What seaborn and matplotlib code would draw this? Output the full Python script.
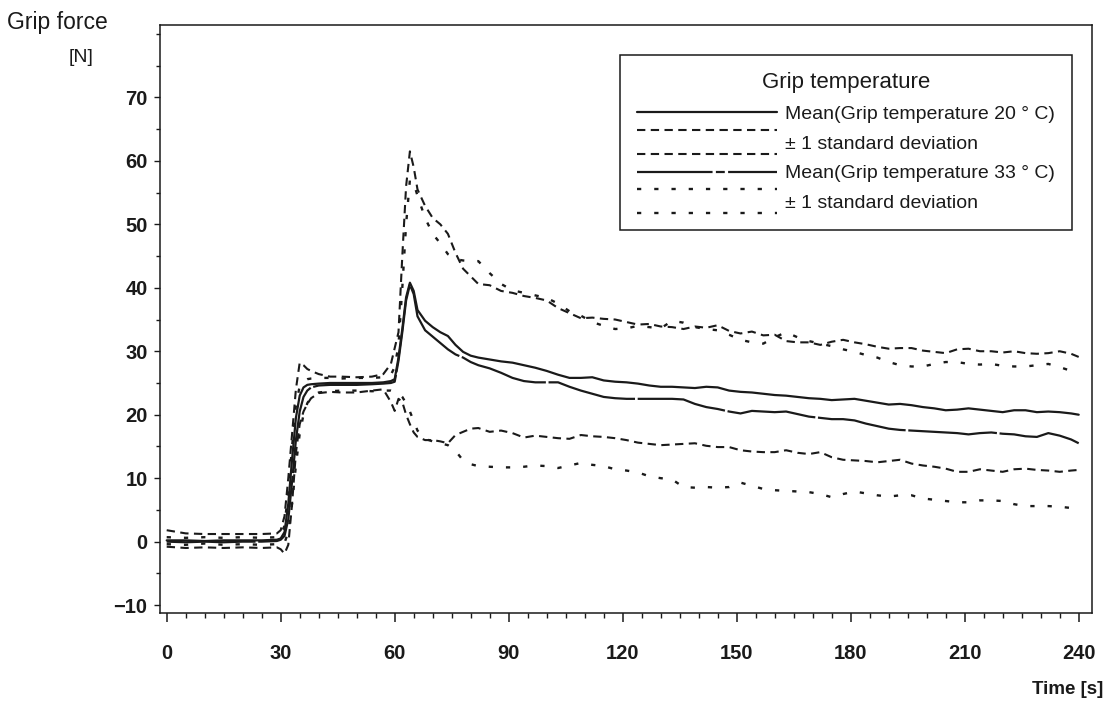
import numpy as np
import pandas as pd
import matplotlib
matplotlib.use("Agg")
import matplotlib.pyplot as plt
import seaborn as sns
from matplotlib.lines import Line2D
from matplotlib.legend_handler import HandlerBase
from matplotlib.ticker import MultipleLocator, FixedLocator

# time axis [s] (denser around the two force steps)
t = [0, 5, 10, 15, 20, 25, 29, 30, 31, 32, 33, 34, 35, 36, 37, 38,
     40, 43, 46, 50, 54, 57, 59,
     60, 61, 62, 63, 64, 65, 66,
     68, 70, 72, 74, 76, 78, 80, 82,
     85, 88, 91, 94, 97, 100, 103, 106, 109, 112,
     115, 118, 121, 124, 127, 130, 133, 136, 139, 142,
     145, 148, 151, 154, 157, 160, 163, 166, 169, 172,
     175, 178, 181, 184, 187, 190, 193, 196, 199, 202,
     205, 208, 211, 214, 217, 220, 223, 226, 229, 232,
     235, 238, 240]

# grip temperature 20 C
mean20 = [0.2, 0.2, 0.1, 0.2, 0.2, 0.2, 0.3, 0.5, 1.5, 6, 13, 19.5, 23, 24.3, 24.7, 24.8,
          24.9, 25.0, 25.0, 25.0, 25.0, 25.1, 25.3,
          25.6, 29, 33.5, 38.5, 40.8, 39.5, 36.5,
          34.8, 33.8, 33.0, 32.4, 31.0, 29.9, 29.3, 29.0,
          28.7, 28.4, 28.2, 27.8, 27.4, 26.9, 26.3, 25.8, 25.8, 25.9,
          25.4, 25.2, 25.1, 24.9, 24.6, 24.4, 24.4, 24.3, 24.2, 24.4,
          24.3, 23.8, 23.6, 23.5, 23.3, 23.1, 23.0, 22.8, 22.6, 22.5,
          22.3, 22.4, 22.5, 22.2, 21.9, 21.6, 21.7, 21.5, 21.2, 21.0,
          20.7, 20.8, 21.0, 20.8, 20.6, 20.4, 20.7, 20.7, 20.4, 20.5,
          20.4, 20.2, 20.0]
sd20_hi = [1.8, 1.3, 1.2, 1.2, 1.2, 1.2, 1.3, 1.8, 4, 10, 17, 24, 28.2, 27.8, 27.2, 26.9,
           26.4, 26.0, 26.0, 25.9, 26.0, 26.4, 28.0,
           30.5, 33, 45, 56, 61.5, 59, 55.5,
           52.9, 51.0, 50.0, 48.5, 45.5, 43.0, 41.8, 40.6,
           40.4, 39.5, 39.2, 38.7, 38.4, 38.0, 36.8, 36.0, 35.2, 35.3,
           35.1, 35.0, 34.6, 34.2, 34.3, 33.9, 33.8, 33.5, 33.9, 33.7,
           34.1, 33.2, 32.8, 33.1, 32.5, 32.6, 31.6, 31.4, 31.4, 31.0,
           31.5, 31.8, 31.4, 31.1, 30.7, 30.4, 30.5, 30.5, 30.1, 29.9,
           29.7, 30.3, 30.4, 30.0, 30.0, 29.8, 30.0, 29.7, 29.6, 29.7,
           30.0, 29.6, 29.1]
sd20_lo = [-0.8, -1.0, -0.9, -1.0, -0.9, -1.0, -0.9, -1.2, -1.9, -0.5, 6, 14, 18.5, 20.5, 21.7, 22.6,
           23.4, 23.6, 23.5, 23.5, 23.8, 24.0, 22.0,
           20.6, 22.5, 22.0, 20.0, 18.5, 17.2, 16.5,
           16.0, 16.0, 15.8, 15.5, 16.8, 17.3, 17.8, 17.9,
           17.3, 17.5, 17.1, 16.4, 16.7, 16.5, 16.3, 16.2, 16.8, 16.6,
           16.5, 16.3, 16.0, 15.6, 15.4, 15.2, 15.3, 15.4, 15.5, 15.1,
           14.9, 14.9, 14.4, 14.2, 14.1, 14.1, 14.4, 14.0, 13.8, 14.1,
           13.3, 12.9, 12.8, 12.7, 12.5, 12.7, 12.9, 12.3, 12.0, 11.8,
           11.5, 11.0, 11.0, 11.4, 11.2, 11.0, 11.4, 11.5, 11.3, 11.2,
           11.0, 11.2, 11.3]

# grip temperature 33 C
mean33 = [0.0, -0.1, 0.0, -0.1, 0.0, 0.0, 0.1, 0.3, 0.9, 3.5, 9.5, 16, 20.5, 22.8, 23.8, 24.3,
          24.6, 24.7, 24.7, 24.7, 24.8, 24.9, 25.0,
          25.2, 28.5, 33, 38, 40.5, 39, 35.5,
          33.3, 32.3, 31.3, 30.3, 29.5, 29.0, 28.3, 27.8,
          27.3, 26.6, 25.8, 25.3, 25.1, 25.1, 25.1, 24.4, 23.8, 23.3,
          22.8, 22.6, 22.5, 22.5, 22.5, 22.5, 22.5, 22.4, 21.7, 21.2,
          20.9, 20.5, 20.2, 20.6, 20.5, 20.4, 20.5, 20.1, 19.7, 19.5,
          19.3, 19.3, 19.1, 18.6, 18.2, 17.8, 17.6, 17.5, 17.4, 17.3,
          17.2, 17.1, 16.9, 17.1, 17.2, 17.0, 16.9, 16.6, 16.5, 17.1,
          16.7, 16.1, 15.5]
sd33_hi = [0.7, 0.6, 0.7, 0.6, 0.7, 0.6, 0.7, 1.0, 2.5, 8, 15, 21.5, 24.5, 25.3, 25.6, 25.7,
           25.8, 25.8, 25.7, 25.8, 25.8, 25.9, 26.3,
           27.5, 31, 40, 50, 57, 56.5, 54.5,
           51.0, 48.5, 47.0, 45.3, 44.5, 44.3, 44.2, 44.2,
           42.3, 40.6, 39.6, 39.2, 38.8, 38.4, 37.5, 36.3, 35.6, 34.6,
           34.0, 33.5, 33.6, 34.0, 33.8, 33.6, 34.8, 34.5, 33.8, 33.5,
           33.3, 32.6, 31.8, 31.4, 31.2, 32.2, 33.0, 32.2, 31.6, 31.2,
           30.8, 30.3, 29.9, 29.4, 29.0, 28.3, 27.8, 27.6, 27.6, 28.0,
           28.3, 28.3, 28.0, 27.9, 28.0, 27.7, 27.6, 27.6, 27.8, 28.0,
           27.5, 26.9, 26.8]
sd33_lo = [-0.4, -0.5, -0.3, -0.5, -0.4, -0.5, -0.4, -0.5, -0.2, 1.5, 6, 12, 17, 20, 21.8, 22.8,
           23.5, 23.7, 23.8, 23.8, 23.7, 23.8, 23.8,
           23.6, 23.4, 22.8, 21.8, 20.5, 19.0, 17.5,
           16.2, 15.8, 15.5, 15.2, 14.3, 12.8, 12.2, 11.9,
           11.8, 11.7, 11.7, 11.8, 12.0, 11.9, 11.6, 12.0, 12.4, 12.1,
           11.9, 11.4, 11.2, 10.9, 10.3, 10.0, 9.8, 8.6, 8.5, 8.6,
           8.5, 8.6, 9.3, 8.8, 8.3, 8.1, 8.0, 7.9, 7.8, 7.5,
           7.0, 7.5, 7.9, 7.6, 7.3, 7.1, 7.3, 7.3, 6.8, 6.6,
           6.4, 6.2, 6.2, 6.5, 6.5, 6.4, 5.9, 5.6, 5.6, 5.6,
           5.5, 5.3, 5.2]

labels = ["Mean(Grip temperature 20 ° C)", "± 1 standard deviation",
          "Mean(Grip temperature 33 ° C)", "± 1 standard deviation"]
yticks = list(range(-10, 71, 10))
xticks = list(range(0, 241, 30))

sns.set_theme(style="ticks")
plt.rcParams["font.family"] = ["Liberation Sans", "DejaVu Sans"]
plt.rcParams["text.color"] = "k"

DASH = (0, (4, 2.6))
DOT = (0, (1.8, 5.5))
LONG = (0, (40, 1.2))

fig = plt.figure(figsize=(11.2, 7.05), dpi=100)
ax = fig.add_axes([0.1429, 0.1309, 0.8321, 0.8336])

lw = 1.6
sns.lineplot(x=t, y=sd20_hi, ax=ax, color="k", lw=1.5, linestyle=DASH)
sns.lineplot(x=t, y=sd20_lo, ax=ax, color="k", lw=1.5, linestyle=DASH)
sns.lineplot(x=t, y=sd33_hi, ax=ax, color="k", lw=1.7, linestyle=DOT)
sns.lineplot(x=t, y=sd33_lo, ax=ax, color="k", lw=1.7, linestyle=DOT)
sns.lineplot(x=t, y=mean20, ax=ax, color="k", lw=lw, linestyle="-")
sns.lineplot(x=t, y=mean33, ax=ax, color="k", lw=lw, linestyle=LONG)

ax.set_xlim(-1.75, 243.5)
ax.set_ylim(-11.2, 81.4)
ax.xaxis.set_major_locator(FixedLocator(xticks))
ax.xaxis.set_minor_locator(MultipleLocator(5))
ax.yaxis.set_major_locator(FixedLocator(yticks))
ax.yaxis.set_minor_locator(MultipleLocator(5))
ax.set_xticklabels([str(v) for v in xticks], fontweight="bold")
ax.set_yticklabels(["\u2212" + str(abs(v)) if v < 0 else str(v) for v in yticks],
                   fontweight="bold")
ax.tick_params(axis="x", which="major", length=6.5, width=1.1, pad=16,
               labelsize=14.5, color="k", labelcolor="k")
ax.tick_params(axis="x", which="minor", length=3.5, width=1.0, color="k")
ax.tick_params(axis="y", which="major", length=4, width=1.0, pad=5,
               labelsize=14.5, color="k", labelcolor="k")
ax.tick_params(axis="y", which="minor", length=3, width=1.0, color="k")
for s in ax.spines.values():
    s.set_color("k")
    s.set_linewidth(1.1)
ax.set_xlabel("")
ax.set_ylabel("")


class TwoLines(HandlerBase):
    """legend handle drawn as two parallel lines (upper / lower sd)"""
    def create_artists(self, legend, orig_handle, xdescent, ydescent,
                       width, height, fontsize, trans):
        yc = height / 2 - ydescent
        arts = []
        for dy in (0.62 * fontsize, -0.62 * fontsize):
            ln = Line2D([-xdescent, width - xdescent], [yc + dy, yc + dy])
            ln.update_from(orig_handle)
            ln.set_transform(trans)
            arts.append(ln)
        return arts


h_m20 = Line2D([], [], color="k", lw=lw, linestyle="-")
h_sd20 = Line2D([], [], color="k", lw=1.5, linestyle=DASH)
h_m33 = Line2D([], [], color="k", lw=lw, linestyle=(0, (34, 1.5, 4, 1.5)))
h_sd33 = Line2D([], [], color="k", lw=1.7, linestyle=DOT)
leg = ax.legend([h_m20, h_sd20, h_m33, h_sd33], labels,
                handler_map={h_sd20: TwoLines(), h_sd33: TwoLines()},
                title="Grip temperature", title_fontsize=16, fontsize=14,
                loc="upper right", bbox_to_anchor=(0.979, 0.949), borderaxespad=0,
                frameon=True, fancybox=False, shadow=False, framealpha=1,
                edgecolor="k", handlelength=7.2, handletextpad=0.4,
                labelspacing=0.62, borderpad=0.9, alignment="center")
leg.get_frame().set_linewidth(1.1)

fig.text(7 / 1120, 1 - 22 / 705, "Grip force", fontsize=16.5, ha="left", va="center")
fig.text(81 / 1120, 1 - 57 / 705, "[N]", fontsize=14, ha="center", va="center")
fig.text(1103 / 1120, 1 - 690 / 705, "Time [s]", fontsize=13.5, fontweight="bold",
         ha="right", va="center")

fig.savefig("out.png", dpi=100)
